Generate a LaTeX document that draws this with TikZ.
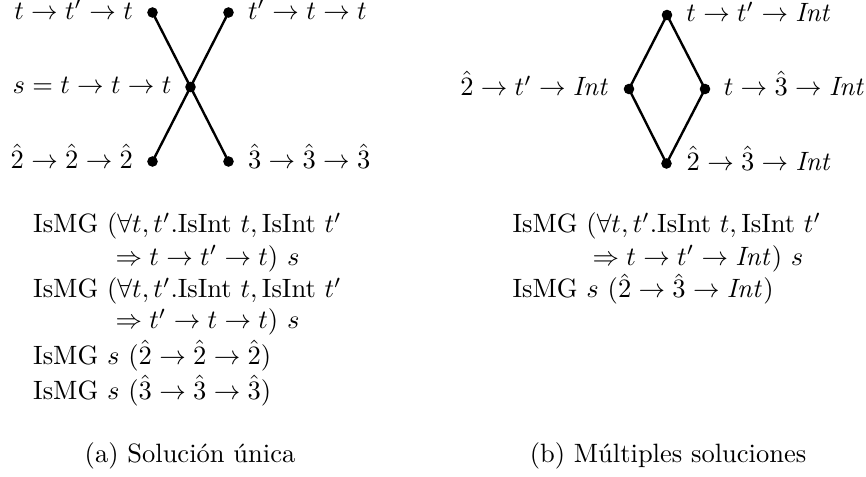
\documentclass[tikz,border=0pt]{standalone}
\begin{document}
\begin{tikzpicture}[x=0.37736pt,y=-0.37736pt,
  dot/.style={circle,fill=black,inner sep=0pt,minimum size=4pt},
  edge/.style={line width=0.9pt},
  lab/.style={inner sep=0pt},
  txt/.style={inner sep=0pt,anchor=base west},
  capt/.style={inner sep=0pt,anchor=base}]
\useasboundingbox (0,0) rectangle (866,477);

% (a) left diagram
\node[dot] (a1) at (152.5,12.5) {};
\node[dot] (a2) at (228.5,12.5) {};
\node[dot] (a0) at (190.5,87) {};
\node[dot] (a3) at (152.5,161.5) {};
\node[dot] (a4) at (228.5,161.5) {};
\draw[edge] (a1.center) -- (a0.center) -- (a4.center);
\draw[edge] (a2.center) -- (a0.center) -- (a3.center);
\node[lab,anchor=base east] (la1) at ([xshift=-7.2pt,yshift=-2.5pt]a1.center) {$t\rightarrow t'\rightarrow t$};
\node[lab,anchor=base west] (la2) at ([xshift=7.2pt,yshift=-2.5pt]a2.center) {$t'\rightarrow t\rightarrow t$};
\node[lab,anchor=base east] (la0) at ([xshift=-7.0pt,yshift=-2.5pt]a0.center) {$s=t\rightarrow t\rightarrow t$};
\node[lab,anchor=base east] (la3) at ([xshift=-7.2pt,yshift=-2.5pt]a3.center) {$\hat{2}\rightarrow\hat{2}\rightarrow\hat{2}$};
\node[lab,anchor=base west] (la4) at ([xshift=7.2pt,yshift=-2.5pt]a4.center) {$\hat{3}\rightarrow\hat{3}\rightarrow\hat{3}$};

% (b) right diagram
\node[dot] (b1) at (667,15) {};
\node[dot] (b2) at (629,89) {};
\node[dot] (b3) at (705,89) {};
\node[dot] (b4) at (666.5,163.5) {};
\draw[edge] (b1.center) -- (b2.center) -- (b4.center) -- (b3.center) -- cycle;
\node[lab,anchor=base west] (lb1) at ([xshift=7.1pt,yshift=-2.5pt]b1.center) {$t\rightarrow t'\rightarrow \mathit{Int}$};
\node[lab,anchor=base east] (lb2) at ([xshift=-7.2pt,yshift=-2.5pt]b2.center) {$\hat{2}\rightarrow t'\rightarrow \mathit{Int}$};
\node[lab,anchor=base west] (lb3) at ([xshift=6.9pt,yshift=-2.5pt]b3.center) {$t\rightarrow\hat{3}\rightarrow \mathit{Int}$};
\node[lab,anchor=base west] (lb4) at ([xshift=7.4pt,yshift=-2.5pt]b4.center) {$\hat{2}\rightarrow\hat{3}\rightarrow \mathit{Int}$};

% (a) text
\node[txt] (ta1) at (32.7,233) {IsMG $(\forall t, t'.\mathrm{IsInt}\ t, \mathrm{IsInt}\ t'$};
\node[txt] (ta2) at (115,265.5) {$\Rightarrow t\rightarrow t'\rightarrow t)\ s$};
\node[txt] (ta3) at (32.7,298) {IsMG $(\forall t, t'.\mathrm{IsInt}\ t, \mathrm{IsInt}\ t'$};
\node[txt] (ta4) at (115,329) {$\Rightarrow t'\rightarrow t\rightarrow t)\ s$};
\node[txt] (ta5) at (32.7,364.5) {IsMG $s$ $(\hat{2}\rightarrow\hat{2}\rightarrow\hat{2})$};
\node[txt] (ta6) at (32.7,399.5) {IsMG $s$ $(\hat{3}\rightarrow\hat{3}\rightarrow\hat{3})$};

% (b) text
\node[txt] (tb1) at (512,233) {IsMG $(\forall t, t'.\mathrm{IsInt}\ t, \mathrm{IsInt}\ t'$};
\node[txt] (tb2) at (592,265.5) {$\Rightarrow t\rightarrow t'\rightarrow \mathit{Int})\ s$};
\node[txt] (tb3) at (512,298) {IsMG $s$ $(\hat{2}\rightarrow\hat{3}\rightarrow \mathit{Int})$};

% captions
\node[capt] (ca) at (190,462) {(a) Solución única};
\node[capt] (cb) at (668,462) {(b) Múltiples soluciones};
\end{tikzpicture}
\end{document}
